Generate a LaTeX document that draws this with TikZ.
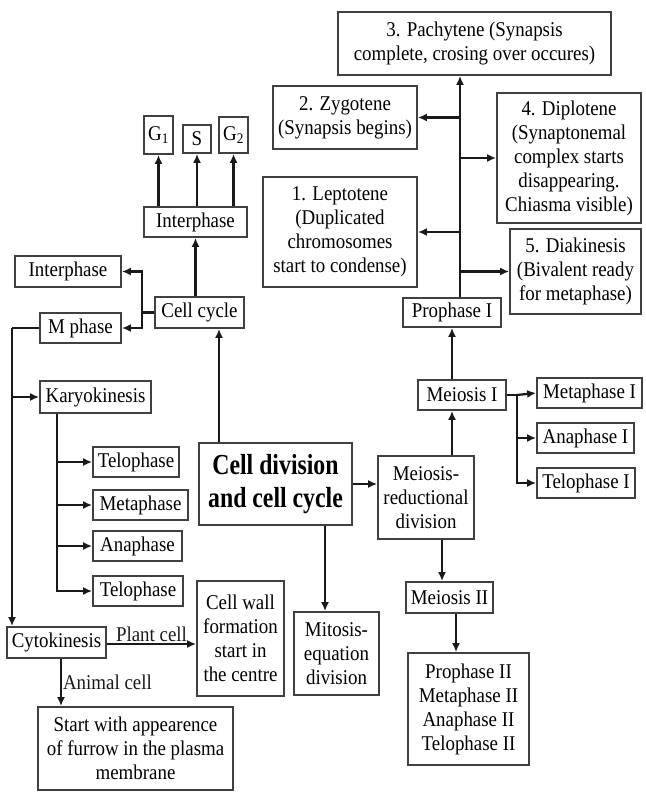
\documentclass[tikz,border=0pt]{standalone}
\usepackage{fontspec}
\setmainfont{Liberation Serif}[FakeStretch=0.9]
\newfontfamily\titlefont{Liberation Serif}[FakeStretch=0.82]
\usetikzlibrary{arrows.meta}
\begin{document}
\begin{tikzpicture}[x=1pt,y=-1pt,
  box/.style={draw=black!75, line width=1.8pt, inner sep=0pt, align=center,
    font=\fontsize{21}{24}\selectfont},
  ln/.style={line width=2.2pt, black!90},
  arr/.style={ln, -{Latex[length=9pt,width=8pt]}},
  lbl/.style={inner sep=1pt, font=\fontsize{21}{24}\selectfont}]
\useasboundingbox[fill=white] (0,0) rectangle (645,792);
% boxes
\node[box, minimum width=29, minimum height=38] (g1) at (158.5,135) {G\textsubscript{1}};
\node[box, minimum width=28, minimum height=28] (s) at (197,139) {S};
\node[box, minimum width=29, minimum height=36] (g2) at (233.5,135) {G\textsubscript{2}};
\node[box, minimum width=103, minimum height=30] (intertop) at (195.5,222) {Interphase};
\node[box, minimum width=106, minimum height=31] (interleft) at (68,271.5) {Interphase};
\node[box, minimum width=89, minimum height=31] (cellcycle) at (199.5,312.5) {Cell cycle};
\node[box, minimum width=81, minimum height=30] (mphase) at (80.5,328) {M phase};
\node[box, minimum width=111, minimum height=32] (karyo) at (95.5,397) {Karyokinesis};
\node[box, minimum width=86, minimum height=30] (telo1) at (136,462) {Telophase};
\node[box, minimum width=95, minimum height=30] (meta) at (140.5,505) {Metaphase};
\node[box, minimum width=89, minimum height=30] (ana) at (137.5,546) {Anaphase};
\node[box, minimum width=90, minimum height=30] (telo2) at (138,591) {Telophase};
\node[box, minimum width=153, minimum height=82, font=\titlefont\fontsize{29}{33}\selectfont\bfseries] (main) at (275.5,484) {Cell division\\and cell cycle};
\node[box, minimum width=85, minimum height=83] (mitosis) at (336.5,653.5) {Mitosis-\\equation\\division};
\node[box, minimum width=96, minimum height=83] (meiosred) at (426,497.5) {Meiosis-\\reductional\\division};
\node[box, minimum width=88, minimum height=30] (meiosis1) at (462,395) {Meiosis I};
\node[box, minimum width=98, minimum height=29] (pro1) at (452,312.5) {Prophase I};
\node[box, minimum width=105, minimum height=30] (meta1) at (589.5,393) {Metaphase I};
\node[box, minimum width=97, minimum height=30] (ana1) at (585.5,438) {Anaphase I};
\node[box, minimum width=98, minimum height=30] (telo1b) at (586,483) {Telophase I};
\node[box, minimum width=87, minimum height=31] (meiosis2) at (449.5,597.5) {Meiosis II};
\node[box, minimum width=121, minimum height=112] (final) at (468.5,709) {Prophase II\\Metaphase II\\Anaphase II\\Telophase II};
\node[box, minimum width=99, minimum height=31] (cyto) at (56.5,642.5) {Cytokinesis};
\node[box, minimum width=87, minimum height=115] (cellwall) at (240.5,638.5) {Cell wall\\formation\\start in\\the centre};
\node[box, minimum width=195, minimum height=83] (furrow) at (135.5,748.5) {Start with appearence\\of furrow in the plasma\\membrane};
\node[box, minimum width=273, minimum height=63] (pachy) at (474.5,43.5) {3. Pachytene (Synapsis\\complete, crosing over occures)};
\node[box, minimum width=144, minimum height=63] (zygo) at (345,117.5) {2. Zygotene\\(Synapsis begins)};
\node[box, minimum width=144, minimum height=130] (diplo) at (569,158) {4. Diplotene\\(Synaptonemal\\complex starts\\disappearing.\\Chiasma visible)};
\node[box, minimum width=154, minimum height=110] (lepto) at (340,232) {1. Leptotene\\(Duplicated\\chromosomes\\start to condense)};
\node[box, minimum width=131, minimum height=85] (diaki) at (575.5,271.5) {5. Diakinesis\\(Bivalent ready\\for metaphase)};
% junction coordinates
\coordinate (j1) at (142,312.5);
\coordinate (j2) at (12,328);
\coordinate (j3) at (57,0);
\coordinate (j4) at (219,0);
\coordinate (j5) at (325,0);
\coordinate (j6) at (452,0);
\coordinate (j7) at (517,395);
\coordinate (j8) at (442,0);
\coordinate (j9) at (456,0);
\coordinate (j10) at (460,0);
\coordinate (j11) at (61,0);
% connectors: interphase
\draw[arr] (intertop.north -| g1) -- (g1.south);
\draw[arr] (intertop.north -| s) -- (s.south);
\draw[arr] (intertop.north -| g2) -- (g2.south);
\draw[arr] (cellcycle.north -| intertop) -- (intertop.south);
\draw[ln] (cellcycle.west) -- (j1);
\draw[arr] (j1) |- (interleft.east);
\draw[arr] (j1) |- (mphase.east);
\draw[ln] (mphase.west) -- (j2);
\draw[arr] (j2) -- (j2 |- cyto.north);
\draw[arr] (j2 |- karyo) -- (karyo.west);
\draw[arr] (karyo.south -| j3) |- (telo2.west);
\draw[arr] (j3 |- telo1) -- (telo1.west);
\draw[arr] (j3 |- meta) -- (meta.west);
\draw[arr] (j3 |- ana) -- (ana.west);
% main
\draw[arr] (main.north -| j4) -- (j4 |- cellcycle.south);
\draw[arr] (main.south -| j5) -- (j5 |- mitosis.north);
\draw[arr] (main.east) -- (main.east -| meiosred.west);
\draw[arr] (meiosred.north -| j6) -- (j6 |- meiosis1.south);
\draw[arr] (meiosis1.north -| pro1) -- (pro1.south);
\draw[ln] (meiosis1.east) -- (j7);
\draw[arr] (j7) -- (meta1.west);
\draw[arr] (j7) |- (telo1b.west);
\draw[arr] (j7 |- ana1) -- (ana1.west);
\draw[arr] (meiosred.south -| j8) -- (j8 |- meiosis2.north);
\draw[arr] (meiosis2.south -| j9) -- (j9 |- final.north);
% prophase I
\draw[arr] (pro1.north -| j10) -- (j10 |- pachy.south);
\draw[arr] (j10 |- zygo.east) -- (zygo.east);
\draw[arr] (j10 |- diplo.west) -- (diplo.west);
\draw[arr] (j10 |- lepto.east) -- (lepto.east);
\draw[arr] (j10 |- diaki.west) -- (diaki.west);
% cytokinesis
\draw[arr] (cyto.east |- 0,644) -- node[lbl, above] {Plant cell} (cellwall.west |- 0,644);
\draw[arr] (cyto.south -| j11) -- node[lbl, right] {Animal cell} (j11 |- furrow.north);
\end{tikzpicture}
\end{document}
